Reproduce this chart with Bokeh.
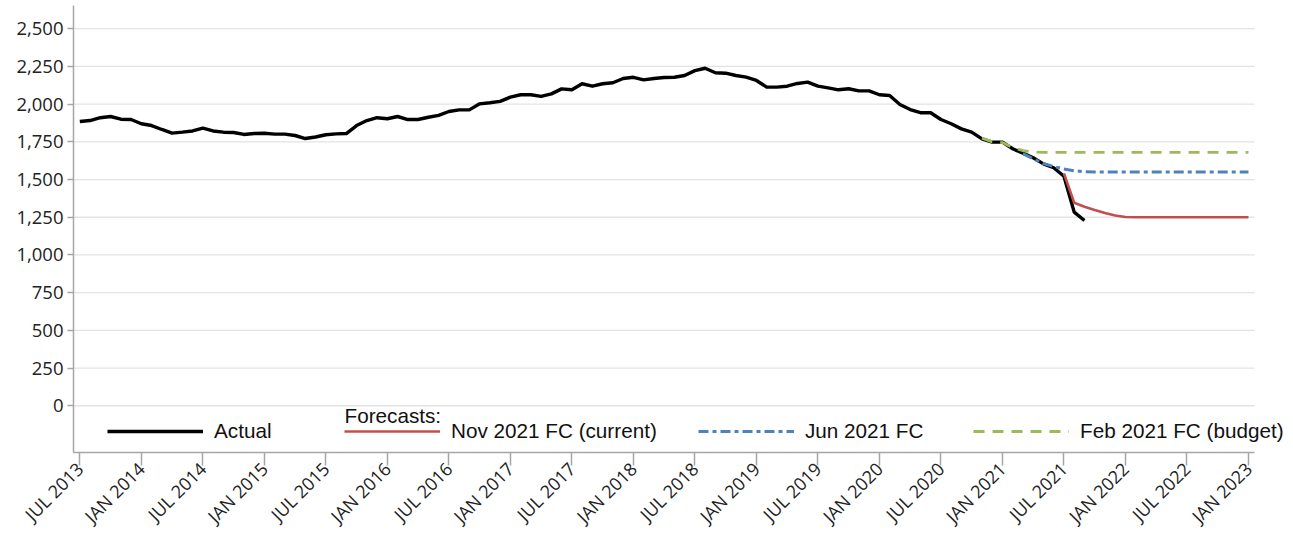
import math
from bokeh.plotting import figure
from bokeh.models import (FixedTicker, NumeralTickFormatter, Legend, LegendItem,
                          Label, Range1d)
from bokeh.embed import file_html
from bokeh.resources import INLINE

# ---------------- data ----------------
first_month = (2013, 7)  # first month of the actual series

tick_labels = ["JUL 2013", "JAN 2014", "JUL 2014", "JAN 2015", "JUL 2015",
               "JAN 2016", "JUL 2016", "JAN 2017", "JUL 2017", "JAN 2018",
               "JUL 2018", "JAN 2019", "JUL 2019", "JAN 2020", "JUL 2020",
               "JAN 2021", "JUL 2021", "JAN 2022", "JUL 2022", "JAN 2023"]

actual = [
    1885, 1891, 1910, 1918, 1900, 1898,                                # 2013 Jul-Dec
    1870, 1858, 1832, 1808, 1814, 1822, 1841, 1822, 1814, 1812, 1799, 1805,  # 2014
    1807, 1801, 1801, 1792, 1772, 1782, 1797, 1803, 1805, 1858, 1891, 1910,  # 2015
    1903, 1918, 1898, 1898, 1913, 1925, 1951, 1962, 1962, 2002, 2009, 2018,  # 2016
    2046, 2062, 2062, 2051, 2068, 2101, 2095, 2135, 2119, 2135, 2142, 2170,  # 2017
    2178, 2161, 2170, 2177, 2178, 2190, 2222, 2238, 2208, 2205, 2190, 2179,  # 2018
    2157, 2113, 2113, 2119, 2137, 2146, 2119, 2108, 2095, 2102, 2088, 2088,  # 2019
    2062, 2057, 1998, 1964, 1943, 1943, 1898, 1870, 1836, 1814, 1770, 1748,  # 2020
    1748, 1704, 1675, 1644, 1604, 1578, 1522, 1284, 1228,                    # 2021 Jan-Sep
]

nov21_start = (2021, 7)
nov21_fc = [1540, 1346, 1320, 1298, 1278, 1262, 1252,
            1250, 1250, 1250, 1250, 1250, 1250, 1250, 1250, 1250, 1250, 1250, 1250]

jun21_start = (2021, 3)
jun21_fc = [1672, 1638, 1606, 1586, 1570, 1558, 1552,
            1550, 1550, 1550, 1550, 1550, 1550, 1550, 1550, 1550, 1550, 1550, 1550,
            1550, 1550, 1550, 1550]

feb21_start = (2020, 11)
feb21_fc = [1775, 1750, 1745, 1712, 1692, 1682,
            1680, 1680, 1680, 1680, 1680, 1680, 1680, 1680, 1680, 1680, 1680,
            1680, 1680, 1680, 1680, 1680, 1680, 1680, 1680, 1680, 1680]

series_names = ["Actual", "Nov 2021 FC (current)", "Jun 2021 FC", "Feb 2021 FC (budget)"]
y_ticks = [0, 250, 500, 750, 1000, 1250, 1500, 1750, 2000, 2250, 2500]


def month_index(ym):
    return (ym[0] - first_month[0]) * 12 + (ym[1] - first_month[1])


def xs(start, vals):
    s = month_index(start)
    return list(range(s, s + len(vals)))


# ---------------- figure ----------------
TICK_FONT = "Open Sans"
LEG_FONT = "Liberation Sans"
AX_COL = "#a6a6a6"

X_START, X_AXIS_END, X_END = -0.615, 114.6, 118.1
Y_START, Y_END = -310, 2654

p = figure(width=1293, height=542, output_backend="svg", toolbar_location=None,
           x_range=Range1d(X_START, X_END), y_range=Range1d(Y_START, Y_END),
           min_border_left=73, min_border_right=3, min_border_top=5,
           min_border_bottom=90)
p.outline_line_color = None
p.background_fill_color = "white"

# horizontal grid lines (stop where the x axis stops)
p.segment(x0=[X_START] * len(y_ticks), x1=[X_AXIS_END] * len(y_ticks),
          y0=y_ticks, y1=y_ticks, line_color="#e3e3e3", line_width=1.3)

r_act = p.line(xs(first_month, actual), actual, line_color="black", line_width=3.4,
               line_join="round")
r_nov = p.line(xs(nov21_start, nov21_fc), nov21_fc, line_color="#C0504D", line_width=2.6)
r_jun = p.line(xs(jun21_start, jun21_fc), jun21_fc, line_color="#4F81BD", line_width=3,
               line_dash="10 4 4 4")
r_feb = p.line(xs(feb21_start, feb21_fc), feb21_fc, line_color="#9BBB59", line_width=2.8,
               line_dash="11 8")

# axes
tick_pos = [i * 6 for i in range(len(tick_labels))]
p.xaxis.ticker = FixedTicker(ticks=tick_pos)
p.xaxis.major_label_overrides = {t: lab for t, lab in zip(tick_pos, tick_labels)}
p.xaxis.major_label_orientation = math.pi / 4
p.xaxis.bounds = (X_START, X_AXIS_END)
p.xaxis.minor_tick_line_color = None
p.xaxis.major_tick_out = 13
p.xaxis.major_tick_in = 0
p.xaxis.major_label_standoff = 0

p.yaxis.ticker = FixedTicker(ticks=y_ticks)
p.yaxis.formatter = NumeralTickFormatter(format="0,0")
p.yaxis.minor_tick_line_color = None
p.yaxis.major_tick_out = 6
p.yaxis.major_tick_in = 0
p.yaxis.major_label_standoff = 4

for ax in (p.xaxis, p.yaxis):
    ax.axis_line_color = AX_COL
    ax.axis_line_width = 1.5
    ax.major_tick_line_color = AX_COL
    ax.major_tick_line_width = 1.5
    ax.major_label_text_font = TICK_FONT
    ax.major_label_text_color = "#222222"
p.yaxis.major_label_text_font_size = "18.5px"
p.xaxis.major_label_text_font_size = "18px"

p.xgrid.grid_line_color = None
p.ygrid.grid_line_color = None

# legends (one per entry, positioned like the reference)
leg_x = [34, 271, 625, 900]
for name, r, lx in zip(series_names, [r_act, r_nov, r_jun, r_feb], leg_x):
    lg = Legend(items=[LegendItem(label=name, renderers=[r])], location=(lx, 9),
                orientation="horizontal", background_fill_alpha=0,
                border_line_alpha=0, padding=0, margin=0, spacing=0,
                glyph_width=96, glyph_height=20, label_height=20,
                label_standoff=11, label_text_font=LEG_FONT,
                label_text_font_size="20.7px", label_text_color="#111111")
    p.add_layout(lg, "center")

p.add_layout(Label(x=271, y=37, x_units="screen", y_units="screen",
                   text="Forecasts:", text_font=LEG_FONT, text_font_size="20.7px",
                   text_baseline="middle", text_color="#111111"))

open("out.html", "w").write(file_html(p, INLINE))
